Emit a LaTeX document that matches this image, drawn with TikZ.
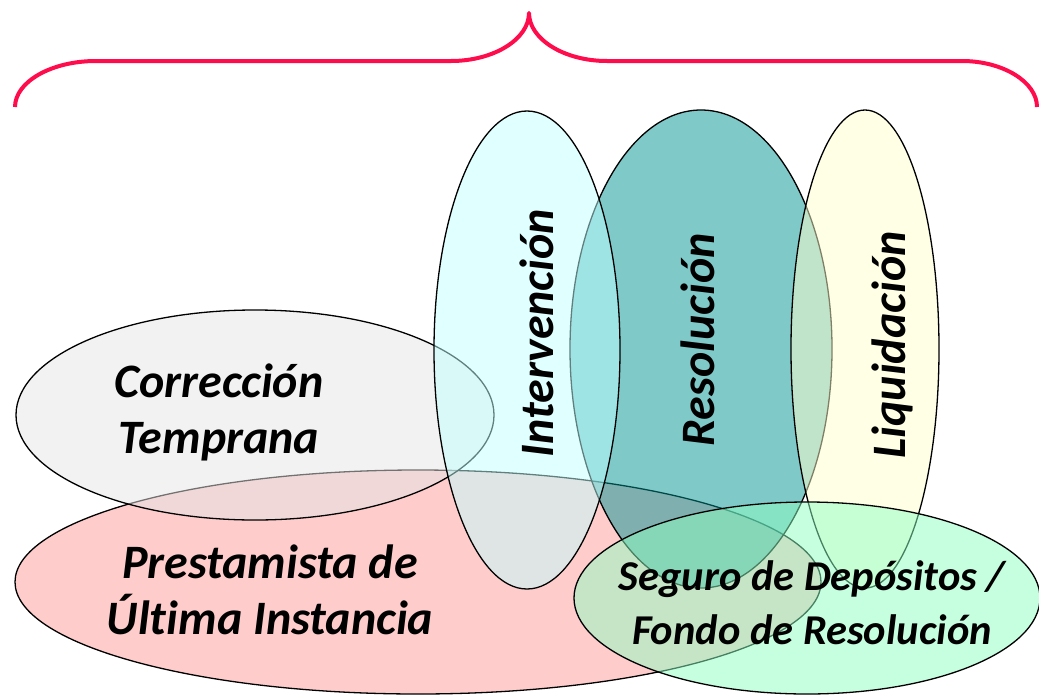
\documentclass[tikz,border=0pt]{standalone}
\usepackage{fontspec}
\setmainfont{Carlito}[Ligatures=NoCommon]
\usetikzlibrary{shapes.geometric}
\definecolor{bracered}{RGB}{255,12,76}
\definecolor{presta}{RGB}{255,153,153}
\definecolor{correc}{RGB}{229,229,229}
\definecolor{resol}{RGB}{0,147,147}
\definecolor{interv}{RGB}{193,255,255}
\definecolor{liquid}{RGB}{255,255,205}
\definecolor{seguro}{RGB}{141,255,193}
\tikzset{%
  area/.style = {shape=ellipse, draw, line width=1.3pt,
    fill opacity=0.5, inner sep=0pt},
  areatext/.style = {align=center, inner sep=0pt,
    font=\fontsize{48}{56}\selectfont\bfseries\itshape},
  brace/.style = {draw=bracered, line width=4pt, line join=round}
}

\begin{document}
\begin{tikzpicture}[x=1pt,y=-1pt]
  \useasboundingbox (0,0) rectangle (1039,694);
  % ellipses, back to front
  \node[area, fill=presta, minimum width=806pt, minimum height=224pt] (presta) at (418,582) {};
  \node[area, fill=correc, minimum width=478pt, minimum height=210pt] (correc) at (255,415) {};
  \node[area, fill=resol, minimum width=262pt, minimum height=478pt] (resol) at (701,349) {};
  \node[area, fill=interv, minimum width=186pt, minimum height=478pt] (interv) at (527,350) {};
  \node[area, fill=liquid, minimum width=148pt, minimum height=478pt] (liquid) at (865,349) {};
  \node[area, fill=seguro, minimum width=466pt, minimum height=192pt] (seguro) at (807,598) {};
  % texts
  \node[areatext] (correctext) at (219,412) {Corrección\\Temprana};
  \node[areatext] (prestatext) at (270,590) {Prestamista de\\Última Instancia};
  \node[areatext, rotate=90] (intervtext) at (537,333) {Intervención};
  \node[areatext, rotate=90] (resoltext) at (698,340) {Resolución};
  \node[areatext, rotate=90] (liquidtext) at (892,345) {Liquidación};
  \node[areatext, font=\fontsize{42.5}{54}\selectfont\bfseries\itshape] (segurotext) at (812,603)
    {Seguro de Depósitos /\\Fondo de Resolución};
  % brace on top
  \coordinate (braceleft) at (15,107);
  \coordinate (bracetip) at (529,13);
  \coordinate (braceright) at (1037,107);
  \draw[brace] (braceleft) .. controls (15,82) and (51,61) .. (96,61) -- (451,61)
    .. controls (494,61) and (529,39) .. (bracetip)
    .. controls (529,39) and (564,61) .. (607,61) -- (962,61)
    .. controls (1003,61) and (1037,82) .. (braceright);
\end{tikzpicture}
\end{document}
